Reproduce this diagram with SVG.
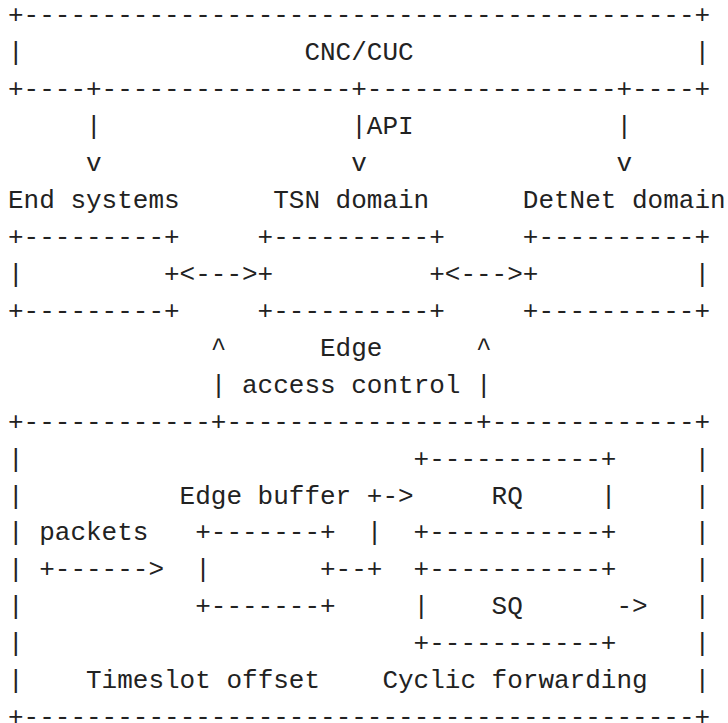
<svg xmlns="http://www.w3.org/2000/svg" width="728" height="723" viewBox="0 0 728 723">
<style>
text{font-family:"Liberation Mono","DejaVu Sans Mono",monospace;font-size:26px;fill:#222;white-space:pre}
</style>
<rect width="728" height="723" fill="#fff"/>
<g id="cnc-cuc">
<text x="8" y="23.4">+-------------------------------------------+</text>
<text x="8" y="60.3">|</text>
<text x="304.4" y="60.3">CNC/CUC</text>
<text x="694.4" y="60.3">|</text>
<text x="8" y="97.3">+----+----------------+----------------+----+</text>
</g>
<g id="end-systems">
<text x="8" y="208.1">End systems</text>
<text x="8" y="245">+---------+</text>
<text x="8" y="281.9">|</text>
<text x="164" y="281.9">+</text>
<text x="8" y="318.8">+---------+</text>
</g>
<g id="tsn-domain">
<text x="273.2" y="208.1">TSN domain</text>
<text x="257.6" y="245">+----------+</text>
<text x="257.6" y="281.9">+</text>
<text x="429.2" y="281.9">+</text>
<text x="257.6" y="318.8">+----------+</text>
</g>
<g id="detnet-domain">
<text x="522.8" y="208.1">DetNet domain</text>
<text x="522.8" y="245">+----------+</text>
<text x="522.8" y="281.9">+</text>
<text x="694.4" y="281.9">|</text>
<text x="522.8" y="318.8">+----------+</text>
</g>
<g id="edge">
<text x="8" y="429.6">+------------+----------------+-------------+</text>
<text x="8" y="466.6">|</text><text x="694.4" y="466.6">|</text>
<text x="8" y="503.5">|</text><text x="694.4" y="503.5">|</text>
<text x="8" y="540.4">|</text><text x="694.4" y="540.4">|</text>
<text x="8" y="577.4">|</text><text x="694.4" y="577.4">|</text>
<text x="8" y="614.3">|</text><text x="694.4" y="614.3">|</text>
<text x="8" y="651.2">|</text><text x="694.4" y="651.2">|</text>
<text x="8" y="688.1">|</text><text x="694.4" y="688.1">|</text>
<text x="8" y="725.1">+-------------------------------------------+</text>
<text x="39.2" y="540.4">packets</text>
<text x="86" y="688.1">Timeslot offset</text>
<text x="382.4" y="688.1">Cyclic forwarding</text>
</g>
<g id="edge-buffer">
<text x="179.6" y="503.5">Edge buffer</text>
<text x="195.2" y="540.4">+-------+</text>
<text x="195.2" y="577.4">|</text>
<text x="320" y="577.4">+</text>
<text x="195.2" y="614.3">+-------+</text>
</g>
<g id="rq">
<text x="413.6" y="466.6">+-----------+</text>
<text x="491.6" y="503.5">RQ</text>
<text x="600.8" y="503.5">|</text>
<text x="413.6" y="540.4">+-----------+</text>
</g>
<g id="sq">
<text x="413.6" y="577.4">+-----------+</text>
<text x="413.6" y="614.3">|</text>
<text x="491.6" y="614.3">SQ</text>
<text x="413.6" y="651.2">+-----------+</text>
</g>
<g id="connectors">
<text x="86" y="134.2">|</text>
<text x="351.2" y="134.2">|API</text>
<text x="616.4" y="134.2">|</text>
<text x="86" y="171.1">v</text>
<text x="351.2" y="171.1">v</text>
<text x="616.4" y="171.1">v</text>
<text x="179.6" y="281.9">&lt;---&gt;</text>
<text x="444.8" y="281.9">&lt;---&gt;</text>
<text x="210.8" y="355.8">^</text>
<text x="320" y="355.8">Edge</text>
<text x="476" y="355.8">^</text>
<text x="210.8" y="392.7">|</text>
<text x="242" y="392.7">access control</text>
<text x="476" y="392.7">|</text>
<text x="39.2" y="577.4">+------&gt;</text>
<text x="335.6" y="577.4">--+</text>
<text x="366.8" y="540.4">|</text>
<text x="366.8" y="503.5">+-&gt;</text>
<text x="616.4" y="614.3">-&gt;</text>
</g>
</svg>
